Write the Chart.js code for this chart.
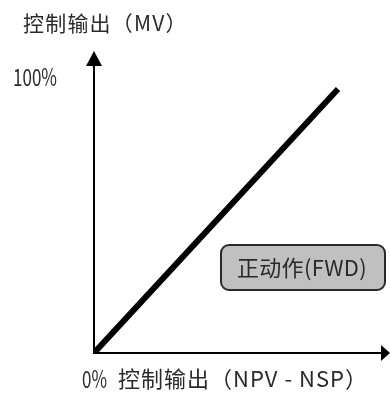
<!DOCTYPE html>
<html>
<head>
<meta charset="utf-8">
<script src="https://cdn.jsdelivr.net/npm/chart.js@4/dist/chart.umd.min.js"></script>
<style>
html,body{margin:0;padding:0;background:#fff;}
#wrap{width:390px;height:394px;position:relative;}
</style>
</head>
<body>
<div id="wrap"><canvas id="c" width="390" height="394"></canvas></div>
<script>
// ---- data ----
const seriesX = [0, 100];          // 控制输出 (NPV - NSP), %
const seriesY = [0, 100];          // 控制输出 (MV), %
const xTickLabels = ['0%'];
const yTickLabels = ['100%'];
const yAxisTitle = '控制输出（MV）';
const xAxisTitle = '控制输出（NPV - NSP）';
const modeLabel = '正动作(FWD)';

const FONT = '"Noto Sans CJK SC", "Noto Sans", sans-serif';

const axesPlugin = {
  id: 'axesArrows',
  afterDatasetsDraw(chart) {
    const ctx = chart.ctx;
    const xs = chart.scales.x, ys = chart.scales.y;
    const ca = chart.chartArea;
    const ox = xs.getPixelForValue(0), oy = ys.getPixelForValue(0);
    ctx.save();
    ctx.strokeStyle = '#000';
    ctx.fillStyle = '#000';
    ctx.lineWidth = 2;
    // y axis
    ctx.beginPath(); ctx.moveTo(ox, oy + 1); ctx.lineTo(ox, ca.top + 14); ctx.stroke();
    ctx.beginPath(); ctx.moveTo(ox, ca.top); ctx.lineTo(ox - 8, ca.top + 15); ctx.lineTo(ox + 8, ca.top + 15); ctx.closePath(); ctx.fill();
    // x axis
    ctx.beginPath(); ctx.moveTo(ox - 1, oy); ctx.lineTo(ca.right - 8, oy); ctx.stroke();
    ctx.beginPath(); ctx.moveTo(ca.right, oy); ctx.lineTo(ca.right - 9, oy - 8); ctx.lineTo(ca.right - 9, oy + 8); ctx.closePath(); ctx.fill();

    // texts
    ctx.fillStyle = '#2a2a2a';
    ctx.textBaseline = 'alphabetic';
    ctx.textAlign = 'left';
    ctx.font = '21px ' + FONT;
    ctx.letterSpacing = '1.2px';
    ctx.fillText(yAxisTitle, 23, 31);
    ctx.letterSpacing = '0px';
    ctx.font = '24px ' + FONT;
    ctx.fillText(yTickLabels[0], 13, 86, 44);
    ctx.textAlign = 'center';
    ctx.fillText(xTickLabels[0], xs.getPixelForValue(0) + 0.5, 388, 25);
    ctx.textAlign = 'left';
    ctx.font = '22px ' + FONT;
    ctx.letterSpacing = '1px';
    ctx.fillText(xAxisTitle, 118, 387);
    ctx.letterSpacing = '0px';

    // mode box
    const bx = 221, by = 245, bw = 164, bh = 45, r = 8;
    ctx.beginPath();
    ctx.roundRect(bx, by, bw, bh, r);
    ctx.fillStyle = '#c0c0c0';
    ctx.fill();
    ctx.lineWidth = 2;
    ctx.strokeStyle = '#2a2a2a';
    ctx.stroke();
    ctx.fillStyle = '#2a2a2a';
    ctx.font = '22px ' + FONT;
    ctx.letterSpacing = '0.3px';
    ctx.textAlign = 'left';
    ctx.textBaseline = 'middle';
    ctx.fillText(modeLabel, 237, by + bh / 2);
    ctx.restore();
  }
};

new Chart(document.getElementById('c'), {
  type: 'line',
  data: {
    datasets: [{
      data: seriesX.map((x, i) => ({x: x, y: seriesY[i]})),
      borderColor: '#000',
      borderWidth: 6,
      borderCapStyle: 'butt',
      pointRadius: 0,
      fill: false,
      tension: 0
    }]
  },
  options: {
    responsive: false,
    animation: false,
    devicePixelRatio: 1,
    layout: { padding: { left: 94, right: 0, top: 51, bottom: 41 } },
    plugins: { legend: { display: false }, tooltip: { enabled: false } },
    scales: {
      x: { type: 'linear', min: 0, max: 121.3, display: false },
      y: { type: 'linear', min: 0, max: 114.4, display: false }
    }
  },
  plugins: [axesPlugin]
});
</script>
</body>
</html>
